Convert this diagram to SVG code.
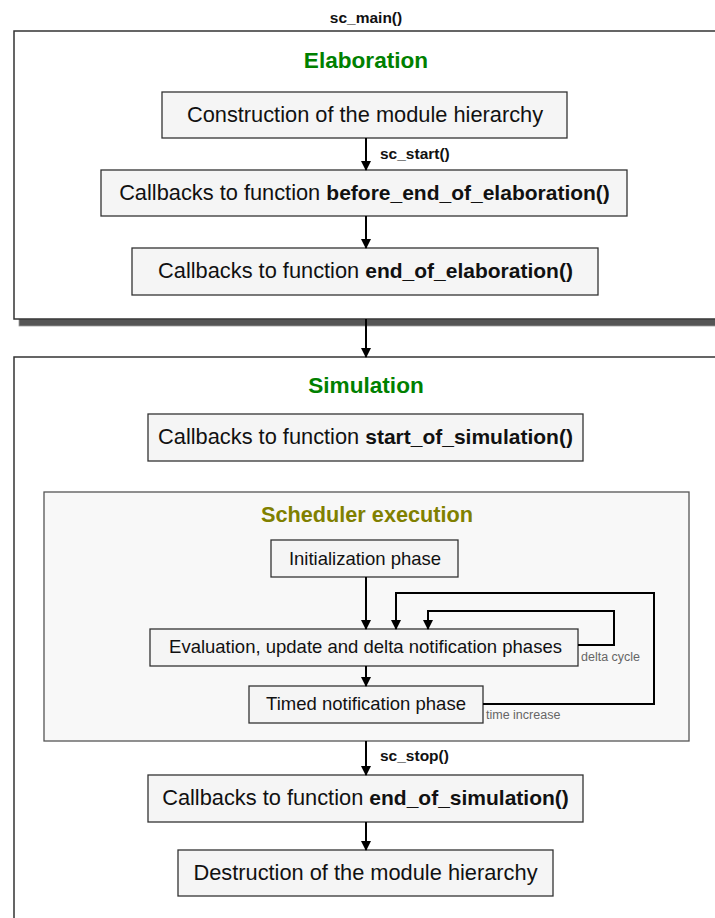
<svg xmlns="http://www.w3.org/2000/svg" width="715" height="918" viewBox="0 0 715 918">
<defs>
<style>
text{font-family:"Liberation Sans",Arial,sans-serif;fill:#111}
.box{fill:#f5f5f5;stroke:#333;stroke-width:1.3}
.outer{fill:#fff;stroke:#333;stroke-width:1.5}
.big{font-size:21.8px;text-anchor:middle}
.b{font-weight:bold;font-size:21px}
.mid{font-size:18.5px;text-anchor:middle}
.ttl{font-size:22.6px;font-weight:bold;text-anchor:middle;fill:#008000}
.lbl{font-size:15.5px;font-weight:bold}
.sm{font-size:12.5px;fill:#666}
.edge{fill:none;stroke:#000;stroke-width:2}
</style>
<marker id="ah" viewBox="0 0 10 10" refX="9" refY="5" markerWidth="5" markerHeight="5" orient="auto" markerUnits="strokeWidth">
<path d="M0,0 L10,5 L0,10 Z" fill="#000"/>
</marker>
</defs>
<rect width="715" height="918" fill="#fff"/>
<text x="366" y="23" class="lbl" text-anchor="middle">sc_main()</text>

<g id="elaboration">
<rect x="19" y="319" width="700" height="7" fill="#555" stroke="#999" stroke-width="0.8"/>
<rect x="14" y="31" width="710" height="288" class="outer"/>
<text x="366" y="68" class="ttl">Elaboration</text>
</g>
<g id="construction">
<rect x="162" y="92" width="405" height="46" class="box"/>
<text x="365" y="122" class="big">Construction of the module hierarchy</text>
</g>
<g id="before_end">
<rect x="101" y="170" width="526" height="46" class="box"/>
<text x="364.5" y="200" class="big">Callbacks to function <tspan class="b">before_end_of_elaboration()</tspan></text>
</g>
<g id="end_elab">
<rect x="132" y="248" width="466" height="47" class="box"/>
<text x="365.5" y="278" class="big">Callbacks to function <tspan class="b">end_of_elaboration()</tspan></text>
</g>

<g id="simulation">
<rect x="14" y="357" width="710" height="580" class="outer"/>
<text x="366" y="393" class="ttl">Simulation</text>
</g>
<g id="start_sim">
<rect x="148" y="414" width="435" height="47" class="box"/>
<text x="365.5" y="444" class="big">Callbacks to function <tspan class="b">start_of_simulation()</tspan></text>
</g>
<g id="scheduler">
<rect x="44" y="492" width="645" height="249" fill="#f8f8f8" stroke="#555" stroke-width="1.3"/>
<text x="367" y="522" class="ttl" style="fill:#808000;font-size:21.7px">Scheduler execution</text>
</g>
<g id="init">
<rect x="271" y="540" width="187" height="37" class="box"/>
<text x="365" y="565" class="mid">Initialization phase</text>
</g>
<g id="eval">
<rect x="150" y="629" width="428" height="37" class="box"/>
<text x="365.5" y="653" class="mid">Evaluation, update and delta notification phases</text>
</g>
<g id="timed">
<rect x="249" y="686" width="234" height="37" class="box"/>
<text x="366" y="710" class="mid">Timed notification phase</text>
</g>
<g id="end_sim">
<rect x="148" y="775" width="435" height="47" class="box"/>
<text x="365.5" y="805" class="big">Callbacks to function <tspan class="b">end_of_simulation()</tspan></text>
</g>
<g id="destruction">
<rect x="178" y="850" width="375" height="46" class="box"/>
<text x="365.5" y="880" class="big">Destruction of the module hierarchy</text>
</g>

<g id="connectors">
<path d="M366,138 V170" class="edge" marker-end="url(#ah)"/>
<text x="380" y="159" class="lbl">sc_start()</text>
<path d="M366,216 V248" class="edge" marker-end="url(#ah)"/>
<path d="M366,319 V357" class="edge" marker-end="url(#ah)"/>
<path d="M366,577 V629" class="edge" stroke-width="2.5" marker-end="url(#ah)"/>
<path d="M366,666 V686" class="edge" marker-end="url(#ah)"/>
<path d="M578,645 H614 V611 H428 V629" class="edge" marker-end="url(#ah)"/>
<text x="581" y="661" class="sm">delta cycle</text>
<path d="M483,704 H654 V593 H396 V629" class="edge" marker-end="url(#ah)"/>
<text x="486" y="719" class="sm">time increase</text>
<path d="M366,741 V775" class="edge" marker-end="url(#ah)"/>
<text x="380" y="761" class="lbl">sc_stop()</text>
<path d="M366,822 V850" class="edge" marker-end="url(#ah)"/>
</g>
</svg>
